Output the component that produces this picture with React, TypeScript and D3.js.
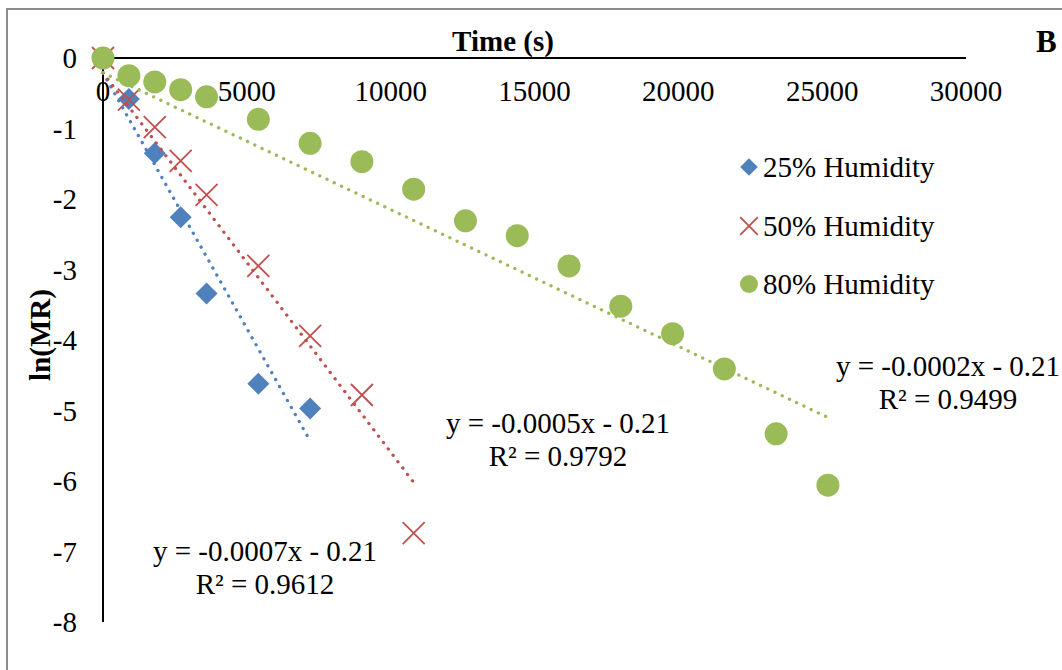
import React from "react";
import * as d3 from "d3";

// Drying time (s) and ln(MR) for each relative humidity
const times = [0, 900, 1800, 2700, 3600, 5400, 7200, 9000, 10800, 12600, 14400, 16200, 18000, 19800, 21600, 23400, 25200];
const lnMR25 = [0, -0.58, -1.35, -2.26, -3.34, -4.62, -4.97];
const lnMR50 = [0, -0.59, -0.98, -1.46, -1.94, -2.95, -3.94, -4.78, -6.74];
const lnMR80 = [0, -0.25, -0.34, -0.45, -0.55, -0.87, -1.21, -1.47, -1.86, -2.31, -2.52, -2.95, -3.52, -3.91, -4.41, -5.33, -6.06];

// Linear trendlines: y = slope * x + intercept
const seriesNames = ["25% Humidity", "50% Humidity", "80% Humidity"];
const trendSlopes = [-0.000725, -0.000538, -0.000194];
const trendIntercepts = [-0.21, -0.21, -0.21];
const rSquared = [0.9612, 0.9792, 0.9499];

const xTicks = [0, 5000, 10000, 15000, 20000, 25000, 30000];
const yTicks = [0, -1, -2, -3, -4, -5, -6, -7, -8];

const W = 1062;
const H = 670;
const FONT = "'Liberation Serif', 'Times New Roman', serif";
const FS = 29;
const COLORS = ["#4F81BD", "#C0504D", "#9BBB59"];

const x = d3.scaleLinear().domain([0, 30000]).range([103, 966]);
const y = d3.scaleLinear().domain([0, -8]).range([58, 622]);

const diamond = (cx: number, cy: number, r: number) =>
  `M${cx},${cy - r}L${cx + r},${cy}L${cx},${cy + r}L${cx - r},${cy}Z`;
const cross = (cx: number, cy: number, r: number) =>
  `M${cx - r},${cy - r}L${cx + r},${cy + r}M${cx - r},${cy + r}L${cx + r},${cy - r}`;

function Marker({ kind, cx, cy, size }: { kind: number; cx: number; cy: number; size: number }) {
  if (kind === 0) return <path d={diamond(cx, cy, size)} fill={COLORS[0]} />;
  if (kind === 1)
    return <path d={cross(cx, cy, size)} fill="none" stroke={COLORS[1]} strokeWidth={1.8} />;
  return <circle cx={cx} cy={cy} r={size} fill={COLORS[2]} />;
}

const fmtSlope = (s: number) => {
  const v = Math.round(s * 10000) / 10000;
  return (v < 0 ? "-" : "") + Math.abs(v).toFixed(4);
};
const fmtIntercept = (b: number) => (b < 0 ? "- " : "+ ") + Math.abs(b).toFixed(2);

export default function App() {
  const series = [lnMR25, lnMR50, lnMR80];
  const line = d3
    .line<[number, number]>()
    .x((d) => x(d[0]))
    .y((d) => y(d[1]));

  const eqPos = [
    { cx: 265, by: 561 },
    { cx: 558, by: 433 },
    { cx: 948, by: 376 },
  ];
  const legendRows = [167, 226, 284];

  return (
    <svg width={W} height={H} style={{ position: "absolute", left: 0, top: 0, background: "#fff" }} fontFamily={FONT}>
      <rect x={0} y={0} width={W} height={H} fill="#fff" />
      {/* chart frame */}
      <path d={`M7,${H + 2}V9H${W + 2}`} fill="none" stroke="#8c8c8c" strokeWidth={2} />

      {/* axes */}
      <line x1={x(0)} x2={x(30000)} y1={y(0)} y2={y(0)} stroke="#000" strokeWidth={2} />
      <line x1={x(0)} x2={x(0)} y1={y(0)} y2={y(-8)} stroke="#000" strokeWidth={2} />

      {xTicks.map((t) => (
        <text key={t} x={x(t)} y={101} textAnchor="middle" fontSize={FS} fill="#000">
          {t}
        </text>
      ))}
      {yTicks.map((t) => (
        <text key={t} x={77} y={y(t) + 10} textAnchor="end" fontSize={FS} fill="#000">
          {t}
        </text>
      ))}

      <text x={503} y={51} textAnchor="middle" fontSize={FS} fontWeight="bold">
        Time (s)
      </text>
      <text x={1036} y={52} fontSize={31} fontWeight="bold">
        B
      </text>
      <text
        transform={`translate(50,335) rotate(-90)`}
        textAnchor="middle"
        fontSize={FS}
        fontWeight="bold"
      >
        ln(MR)
      </text>

      {/* data markers */}
      {series.map((vals, k) => (
        <g key={k}>
          {vals.map((v, i) => (
            <Marker key={i} kind={k} cx={x(times[i])} cy={y(v)} size={k === 2 ? 11.5 : 11} />
          ))}
        </g>
      ))}

      {/* dotted linear trendlines */}
      {series.map((vals, k) => {
        const xEnd = times[vals.length - 1];
        const pts: [number, number][] = [
          [0, trendIntercepts[k]],
          [xEnd, trendSlopes[k] * xEnd + trendIntercepts[k]],
        ];
        return (
          <path
            key={k}
            d={line(pts) || ""}
            fill="none"
            stroke={COLORS[k]}
            strokeWidth={3.3}
            strokeLinecap="round"
            strokeDasharray="0.1 7.9"
          />
        );
      })}

      {/* trendline equations */}
      {eqPos.map((p, k) => (
        <g key={k} fontSize={FS} textAnchor="middle" fill="#000">
          <text x={p.cx} y={p.by}>
            {`y = ${fmtSlope(trendSlopes[k])}x ${fmtIntercept(trendIntercepts[k])}`}
          </text>
          <text x={p.cx} y={p.by + 33}>
            {`R² = ${rSquared[k].toFixed(4)}`}
          </text>
        </g>
      ))}

      {/* legend */}
      {seriesNames.map((name, k) => (
        <g key={name}>
          <Marker kind={k} cx={749} cy={legendRows[k]} size={k === 2 ? 9 : 8.8} />
          <text x={763} y={legendRows[k] + 10} fontSize={FS} fill="#000">
            {name}
          </text>
        </g>
      ))}
    </svg>
  );
}
